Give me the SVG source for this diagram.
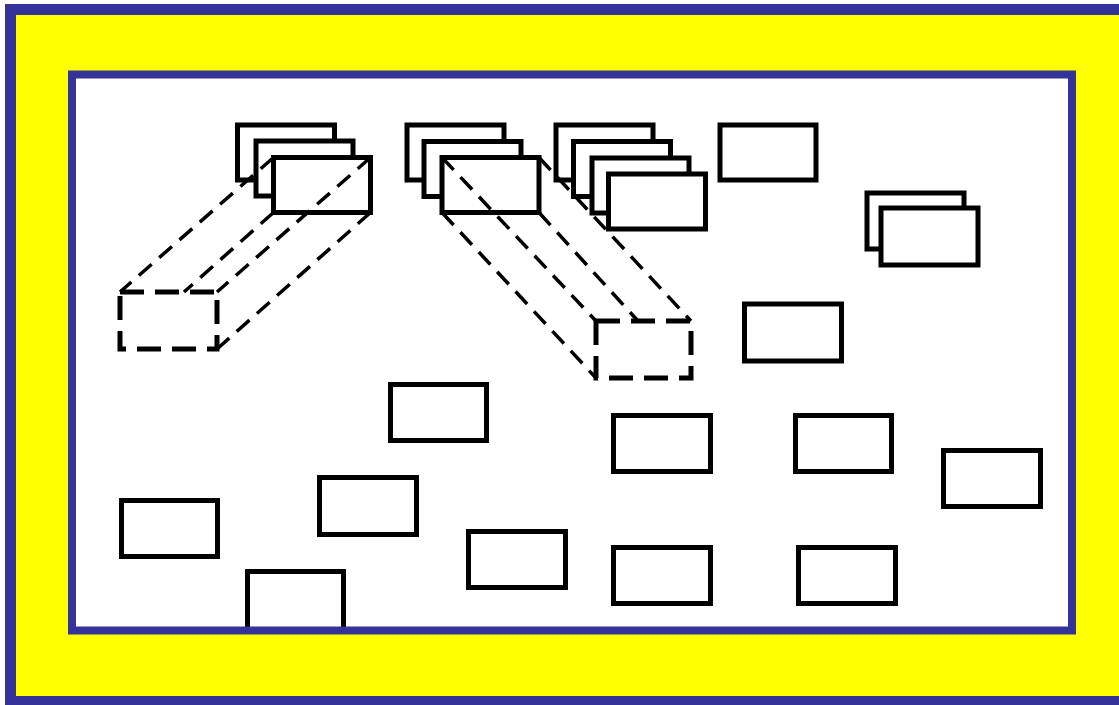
<svg xmlns="http://www.w3.org/2000/svg" width="1119" height="705" viewBox="0 0 1119 705">
  <style>
    .box { fill: #ffffff; stroke: #000000; stroke-width: 5; }
    .dbox { fill: none; stroke: #000000; stroke-width: 5; stroke-dasharray: 24 11; }
    .dl { fill: none; stroke: #000000; stroke-width: 3.5; stroke-dasharray: 17 10; }
  </style>
  <rect x="0" y="0" width="1119" height="705" fill="#ffffff"/>
  <g id="outer-frame">
    <rect x="10.5" y="9.5" width="1125" height="692" fill="#ffff00" stroke="#333399" stroke-width="11"/>
    <rect x="72" y="74.5" width="1000" height="556" fill="#ffffff"/>
  </g>
  <g id="stack1">
    <rect class="box" x="237.5" y="125" width="97" height="55"/>
    <rect class="box" x="256" y="141" width="97" height="55"/>
    <rect class="box" x="273.5" y="157.5" width="97" height="55"/>
  </g>
  <g id="stack2">
    <rect class="box" x="407" y="125" width="97" height="55"/>
    <rect class="box" x="424" y="141.5" width="97" height="55"/>
    <rect class="box" x="442" y="157.5" width="97" height="55"/>
  </g>
  <g id="stack3">
    <rect class="box" x="556" y="125" width="97" height="55"/>
    <rect class="box" x="573.5" y="141.5" width="97" height="55"/>
    <rect class="box" x="592" y="158" width="97" height="55"/>
    <rect class="box" x="608.5" y="174" width="97" height="55"/>
  </g>
  <g id="box-top"><rect class="box" x="720" y="125" width="96" height="55"/></g>
  <g id="stack4">
    <rect class="box" x="867" y="193" width="97" height="56"/>
    <rect class="box" x="881" y="208" width="97" height="57"/>
  </g>
  <g id="box-r2"><rect class="box" x="744.5" y="304" width="97" height="57"/></g>
  <g id="box-a"><rect class="box" x="390.5" y="384.5" width="96" height="56"/></g>
  <g id="box-b"><rect class="box" x="613.5" y="415.5" width="97" height="56"/></g>
  <g id="box-c"><rect class="box" x="795.5" y="415.5" width="96" height="56"/></g>
  <g id="box-d"><rect class="box" x="943.5" y="450.5" width="97" height="56"/></g>
  <g id="box-e"><rect class="box" x="121.5" y="500.5" width="96" height="56"/></g>
  <g id="box-f"><rect class="box" x="319.5" y="477.5" width="97" height="57"/></g>
  <g id="box-g"><rect class="box" x="468.5" y="531.5" width="97" height="56"/></g>
  <g id="box-h"><rect class="box" x="613.5" y="547.5" width="97" height="56"/></g>
  <g id="box-i"><rect class="box" x="798.5" y="547.5" width="97" height="56"/></g>
  <g id="box-j"><rect class="box" x="247.5" y="571.5" width="96" height="58"/></g>
  <g id="dashed-1"><rect class="dbox" x="120" y="292" width="97" height="57"/></g>
  <g id="dashed-2"><rect class="dbox" x="596" y="321" width="95" height="57"/></g>
  <g id="connectors">
    <line class="dl" x1="273.5" y1="157.5" x2="120" y2="292"/>
    <line class="dl" x1="370.5" y1="157.5" x2="217" y2="292"/>
    <line class="dl" x1="370.5" y1="212.5" x2="217" y2="349"/>
    <line class="dl" x1="273.5" y1="212.5" x2="184" y2="292"/>
    <line class="dl" x1="442" y1="157.5" x2="596" y2="321"/>
    <line class="dl" x1="539" y1="157.5" x2="691" y2="321"/>
    <line class="dl" x1="442" y1="212.5" x2="596" y2="378"/>
    <line class="dl" x1="539" y1="212.5" x2="638" y2="321"/>
  </g>
  <g id="inner-frame-border">
    <rect x="72" y="74.5" width="1000" height="556" fill="none" stroke="#333399" stroke-width="8"/>
  </g>
</svg>
